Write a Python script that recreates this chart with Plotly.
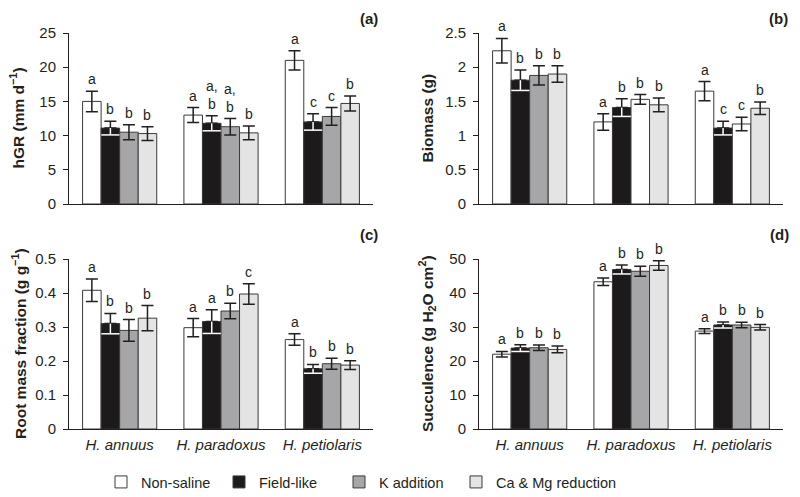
import plotly.graph_objects as go

species = ["H. annuus", "H. paradoxus", "H. petiolaris"]
treatments = ["Non-saline", "Field-like", "K addition", "Ca & Mg reduction"]

# panel (a) hGR
hgr = [[15.0, 13.0, 21.0], [11.1, 11.8, 12.0], [10.5, 11.3, 12.8], [10.3, 10.4, 14.7]]
hgr_err = [[1.5, 1.1, 1.4], [1.0, 1.1, 1.2], [1.1, 1.2, 1.3], [1.0, 1.0, 1.1]]
hgr_let = [["a", "a", "a"], ["b", "a,<br>b", "c"], ["b", "a,<br>b", "c"], ["b", "b", "b"]]

# panel (b) Biomass
bio = [[2.24, 1.20, 1.65], [1.81, 1.41, 1.11], [1.88, 1.53, 1.17], [1.90, 1.45, 1.40]]
bio_err = [[0.18, 0.12, 0.14], [0.15, 0.13, 0.10], [0.14, 0.07, 0.10], [0.12, 0.10, 0.09]]
bio_let = [["a", "a", "a"], ["b", "b", "c"], ["b", "b", "c"], ["b", "b", "b"]]

# panel (c) Root mass fraction
rmf = [[0.408, 0.298, 0.263], [0.310, 0.316, 0.177], [0.290, 0.347, 0.192], [0.326, 0.397, 0.188]]
rmf_err = [[0.033, 0.027, 0.017], [0.030, 0.035, 0.013], [0.032, 0.023, 0.016], [0.037, 0.030, 0.013]]
rmf_let = [["a", "a", "a"], ["b", "a", "b"], ["b", "b", "b"], ["b", "c", "b"]]

# panel (d) Succulence
suc = [[22.0, 43.3, 28.8], [23.8, 46.9, 30.6], [23.9, 46.4, 30.6], [23.4, 48.1, 29.9]]
suc_err = [[0.8, 1.1, 0.7], [1.0, 1.3, 0.9], [0.8, 1.5, 0.8], [1.0, 1.4, 0.8]]
suc_let = [["a", "a", "a"], ["b", "b", "b"], ["b", "b", "b"], ["b", "b", "b"]]

fills = ["#ffffff", "#1c1a1b", "#a6a6a8", "#e4e4e4"]
# in the published panel (b) two K-addition bars are rendered white
bio_fill_override = {2: ["#a6a6a8", "#ffffff", "#ffffff"]}

# page body has an 8px margin: the figure is placed at (8, 8) in the window
OX, OY = 8, 8
W, H = 792, 489
def fx(px):
    return (px - OX) / W
def fy(py):
    return 1 - (py - OY) / H

panels = [
    dict(data=hgr, err=hgr_err, let=hgr_let, xa="x", ya="y", xd=(69, 373), yd=(204, 33),
         rng=[0, 25], dt=5, title="hGR (mm d<sup>−1</sup>)", lab="(a)", labpos=(380, 18.5), tx=17,
         showx=False, fmt=None),
    dict(data=bio, err=bio_err, let=bio_let, xa="x2", ya="y2", xd=(479, 783), yd=(204, 33),
         rng=[0, 2.5], dt=0.5, title="Biomass (g)", lab="(b)", labpos=(790, 18.5), tx=427,
         showx=False, fmt=bio_fill_override),
    dict(data=rmf, err=rmf_err, let=rmf_let, xa="x3", ya="y3", xd=(69, 373), yd=(429, 259),
         rng=[0, 0.5], dt=0.1, title="Root mass fraction (g g<sup>−1</sup>)", lab="(c)", labpos=(380, 234),
         tx=19, showx=True, fmt=None),
    dict(data=suc, err=suc_err, let=suc_let, xa="x4", ya="y4", xd=(479, 783), yd=(429, 259),
         rng=[0, 50], dt=10, title="Succulence (g H<sub>2</sub>O cm<sup>2</sup>)", lab="(d)", labpos=(791, 234),
         tx=427, showx=True, fmt=None),
]

bw = 0.183
offs = [(-1.5 + k) * bw for k in range(4)]
fig = go.Figure()
annotations = []
FONT = "Liberation Sans, Arial, Helvetica, sans-serif"
ink = "#231f20"
legend_names = ["legend", "legend2", "legend3", "legend4"]
legend_px = [101, 219, 339, 456]

for pi, p in enumerate(panels):
    for k in range(4):
        xs = [i + offs[k] for i in range(3)]
        vals = p["data"][k]
        errs = p["err"][k]
        color = fills[k]
        if p["fmt"] and k in p["fmt"]:
            color = p["fmt"][k]
        black = (k == 1)
        fig.add_trace(go.Bar(
            x=xs, y=vals, width=bw, name=treatments[k],
            marker=dict(color=color, line=dict(color="#3a3a3a", width=1)),
            error_y=dict(type="data", array=errs,
                         arrayminus=[0] * 3 if black else errs,
                         symmetric=False, color=ink, thickness=1.5, width=6),
            xaxis=p["xa"], yaxis=p["ya"], showlegend=(pi == 0),
            legend=legend_names[k], hoverinfo="skip"))
        if black:
            lows = [v - e for v, e in zip(vals, errs)]
            fig.add_trace(go.Scatter(
                x=xs, y=lows, mode="markers",
                marker=dict(symbol="line-ew", size=13, line=dict(color="white", width=1.5)),
                error_y=dict(type="data", array=errs, arrayminus=[0] * 3, symmetric=False,
                             color="white", thickness=1.5, width=0),
                xaxis=p["xa"], yaxis=p["ya"], showlegend=False, hoverinfo="skip"))
        for i in range(3):
            annotations.append(dict(
                x=xs[i], y=vals[i] + errs[i], xref=p["xa"], yref=p["ya"],
                text=p["let"][k][i], showarrow=False, yanchor="bottom", yshift=2,
                font=dict(family=FONT, size=14, color=ink)))
    # panel label
    annotations.append(dict(x=fx(p["labpos"][0]), y=fy(p["labpos"][1]), xref="paper", yref="paper",
                            text="<b>" + p["lab"] + "</b>", showarrow=False, xanchor="right", yanchor="middle",
                            font=dict(family=FONT, size=15, color=ink)))
    # y-axis title
    annotations.append(dict(x=fx(p["tx"]), y=fy((p["yd"][0] + p["yd"][1]) / 2), xref="paper", yref="paper",
                            text="<b>" + p["title"] + "</b>", showarrow=False, textangle=-90,
                            xanchor="center", yanchor="middle",
                            font=dict(family=FONT, size=15.5, color=ink)))
    n = "" if pi == 0 else str(pi + 1)
    fig.layout["xaxis" + n] = dict(
        domain=[fx(p["xd"][0]), fx(p["xd"][1])], range=[-0.5, 2.5], anchor=p["ya"],
        tickvals=[0, 1, 2], ticktext=["<i>" + s + "</i>" for s in species],
        showticklabels=p["showx"], ticks="", showline=True, linecolor=ink, linewidth=1,
        showgrid=False, zeroline=False, tickfont=dict(family=FONT, size=15, color=ink),
        ticklabelstandoff=2, automargin=False)
    nt = int(round(p["rng"][1] / p["dt"]))
    tv = [round(j * p["dt"], 3) for j in range(nt + 1)]
    fig.layout["yaxis" + n] = dict(
        domain=[fy(p["yd"][0]), fy(p["yd"][1])], range=p["rng"], anchor=p["xa"],
        tickvals=tv, ticktext=[("%g" % v) for v in tv],
        ticks="outside", ticklen=5, tickcolor=ink, showline=True, linecolor=ink, linewidth=1,
        showgrid=False, zeroline=False, tickfont=dict(family=FONT, size=15, color=ink),
        ticklabelstandoff=4, automargin=False)

for k in range(4):
    fig.layout[legend_names[k]] = dict(
        orientation="h", x=fx(legend_px[k]), xanchor="left", y=fy(482), yanchor="middle",
        font=dict(family=FONT, size=14.5, color=ink), bgcolor="rgba(0,0,0,0)")

fig.update_layout(
    width=W, height=H, margin=dict(l=0, r=0, t=0, b=0, autoexpand=False),
    plot_bgcolor="white", paper_bgcolor="white",
    barmode="overlay", annotations=annotations,
    font=dict(family=FONT, color=ink),
)

fig.write_html("out.html")
